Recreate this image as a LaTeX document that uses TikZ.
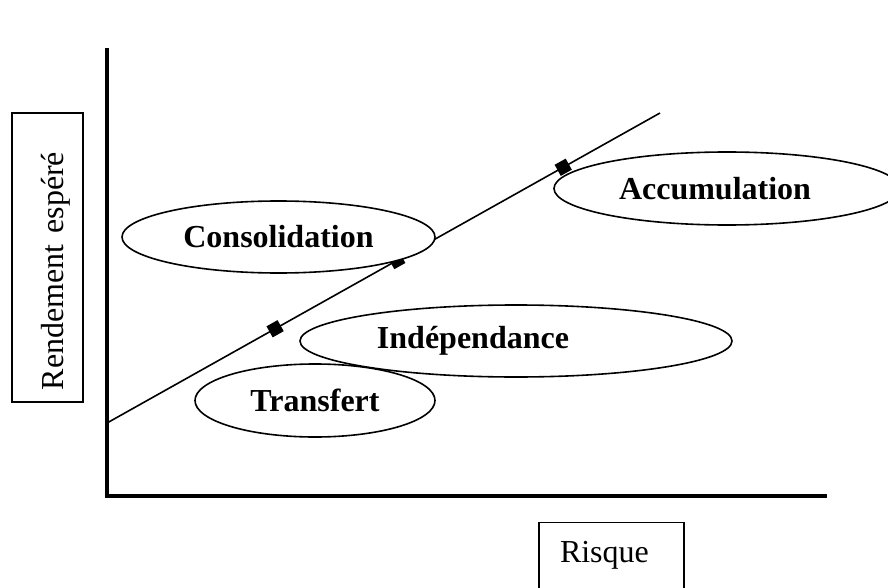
\documentclass[tikz,border=0pt]{standalone}
\usepackage{fontspec}
\setmainfont{Liberation Serif}
\usetikzlibrary{calc, shapes.geometric}

\begin{document}
\begin{tikzpicture}[x=0.75pt, y=-0.75pt,
    axis/.style={line width=2.8pt, line join=miter},
    trend/.style={line width=1.2pt},
    mark box/.style={rectangle, fill=black, minimum size=9.5pt, inner sep=0pt, rotate=29.3},
    zone/.style={ellipse, draw, line width=1.2pt, fill=white, inner sep=0pt},
    zone text/.style={font=\fontsize{24pt}{28pt}\selectfont\bfseries},
    axis label/.style={draw, line width=1pt, font=\fontsize{24pt}{28pt}\selectfont, align=left, inner ysep=0pt}]
        \useasboundingbox (0,0) rectangle (888,588);

        % axes
        \coordinate (ytop) at (107,48);
        \coordinate (origin) at (107,496);
        \coordinate (xend) at (827,496);
        \draw[axis] (ytop) -- (origin) -- (xend);

        % trend line with its markers
        \coordinate (lo) at (107,423);
        \coordinate (hi) at (660,113);
        \draw[trend] (lo) -- (hi);
        \foreach \t/\n in {0.304/m1, 0.524/m2, 0.825/m3}
            \node[mark box] (\n) at ($(lo)!\t!(hi)$) {};

        % zones
        \node[zone, zone text, minimum width=234.75pt, minimum height=54pt] (consol) at (278.5,237) {Consolidation};
        \node[zone, minimum width=259.5pt, minimum height=54.75pt] (accum) at (727,188.5) {};
        \node[zone text] (accumtxt) at (715,189) {Accumulation};
        \node[zone, minimum width=324pt, minimum height=54pt] (indep) at (516,341) {};
        \node[zone text] (indeptxt) at (473,341) {Indépendance};
        \node[zone, zone text, minimum width=180pt, minimum height=54.75pt] (transf) at (315,400.5) {Transfert};

        % axis labels
        \node[axis label, rotate=90, text width=198.75pt, inner xsep=9pt, text height=38.25pt, text depth=15pt] (rend) at (47.5,257.5) {Rendement espéré};
        \node[axis label, anchor=north, text width=77.25pt, inner xsep=15.75pt, text height=30pt, text depth=23.25pt] (risk) at (611.5,522) {Risque};
    \end{tikzpicture}
\end{document}
